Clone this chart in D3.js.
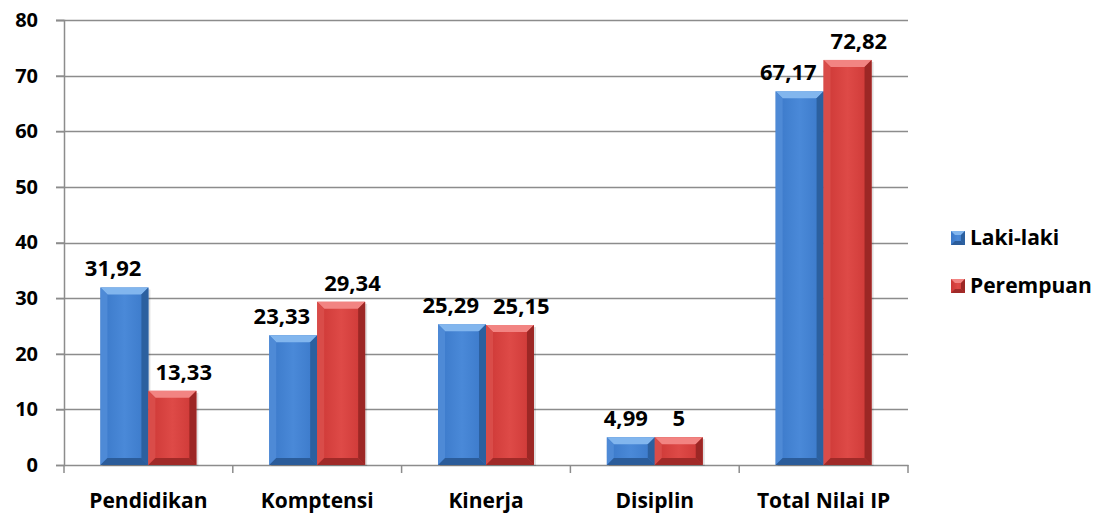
<!DOCTYPE html>
<html>
<head>
<meta charset="utf-8">
<script src="https://cdn.jsdelivr.net/npm/d3@7"></script>
<style>
	body { margin: 0; background: #fff; }
	text { font-family: 'Open Sans', Lato, sans-serif; font-weight: bold; fill: #000; }
</style>
</head>
<body>
<div id="chart"></div>
<script>
// data
const categories = ['Pendidikan', 'Komptensi', 'Kinerja', 'Disiplin', 'Total Nilai IP'];
const series = ['Laki-laki', 'Perempuan'];
const lakiValues = [31.92, 23.33, 25.29, 4.99, 67.17];
const perempuanValues = [13.33, 29.34, 25.15, 5, 72.82];
const yTicks = [0, 10, 20, 30, 40, 50, 60, 70, 80];

const W = 1116, H = 526;
const plot = { left: 64, right: 908, top: 20, bottom: 465 };
const FONT = "'Open Sans', Lato, sans-serif";

// bevel colours per series: face, top, left, right, bottom
const palette = {
	'Laki-laki': { face: ['#3A78C8', '#4A89D8', '#3A78C8'], top: '#82B6EE', left: '#4E8AD6', right: '#2C609F', bottom: '#2B5C9A' },
	'Perempuan': { face: ['#CC3735', '#DE4A47', '#CC3735'], top: '#F28482', left: '#D94C49', right: '#9C2725', bottom: '#A02A28' }
};

const svg = d3.select('#chart').append('svg').attr('width', W).attr('height', H);

const defs = svg.append('defs');
series.forEach((s, i) => {
	const g = defs.append('linearGradient').attr('id', 'face' + i).attr('x1', '0').attr('x2', '1').attr('y1', '0').attr('y2', '0');
	palette[s].face.forEach((c, j) => g.append('stop').attr('offset', j / 2).attr('stop-color', c));
});

const x0 = d3.scaleBand().domain(categories).range([plot.left, plot.right]);
const x1 = d3.scaleBand().domain(series).range([0, x0.bandwidth()]).paddingOuter(0.76);
const y = d3.scaleLinear().domain([0, 80]).range([plot.bottom, plot.top]);

// gridlines
svg.append('g')
	.selectAll('line')
	.data(yTicks.filter((d) => d > 0))
	.enter()
	.append('line')
	.attr('x1', plot.left - 8)
	.attr('x2', plot.right)
	.attr('y1', (d) => Math.round(y(d)) + 0.5)
	.attr('y2', (d) => Math.round(y(d)) + 0.5)
	.attr('stroke', '#8c8c8c')
	.attr('stroke-width', 1.5);

// y axis
const yAxis = svg.append('g')
	.attr('transform', `translate(${plot.left},0)`)
	.call(d3.axisLeft(y).tickValues(yTicks).tickSize(8).tickPadding(18));
yAxis.select('.domain').attr('stroke', '#8c8c8c').attr('stroke-width', 1.5);
yAxis.selectAll('.tick line').attr('stroke', '#8c8c8c').attr('stroke-width', 1.5);
yAxis.selectAll('.tick text').attr('font-size', 20).attr('font-family', FONT).attr('font-weight', 'bold').attr('fill', '#000');

// x axis
const xAxis = svg.append('g')
	.attr('transform', `translate(0,${plot.bottom})`)
	.call(d3.axisBottom(x0).tickSize(0).tickPadding(28));
xAxis.select('.domain').attr('stroke', '#8c8c8c').attr('stroke-width', 1.5);
xAxis.selectAll('.tick text').attr('font-size', 21).attr('font-family', FONT).attr('font-weight', 'bold').attr('fill', '#000');
// category boundary ticks
svg.append('g')
	.selectAll('line')
	.data(categories.map((c) => x0(c)).concat([plot.right]))
	.enter()
	.append('line')
	.attr('x1', (d) => d)
	.attr('x2', (d) => d)
	.attr('y1', plot.bottom)
	.attr('y2', plot.bottom + 8)
	.attr('stroke', '#8c8c8c')
	.attr('stroke-width', 1.5);

// bars
const rows = categories.map((c, i) => ({ cat: c, vals: [lakiValues[i], perempuanValues[i]] }));
const bars = [];
rows.forEach((r) => r.vals.forEach((v, i) => bars.push({ cat: r.cat, s: series[i], si: i, v })));

function bevel(g, d) {
	const x = x0(d.cat) + x1(d.s);
	const w = x1.bandwidth();
	const yt = y(d.v);
	const h = plot.bottom - yt;
	const b = Math.min(7, h / 2, w / 2);
	const p = palette[d.s];
	// soft shadow
	g.append('rect').attr('x', x + 2).attr('y', yt + 2).attr('width', w).attr('height', h - 1)
		.attr('fill', '#000').attr('opacity', 0.12);
	g.append('rect').attr('x', x).attr('y', yt).attr('width', w).attr('height', h).attr('fill', `url(#face${d.si})`);
	const poly = (pts, fill) => g.append('polygon').attr('points', pts.map((q) => q.join(',')).join(' ')).attr('fill', fill);
	poly([[x, yt], [x + w, yt], [x + w - b, yt + b], [x + b, yt + b]], p.top);
	poly([[x, yt], [x + b, yt + b], [x + b, plot.bottom - b], [x, plot.bottom]], p.left);
	poly([[x + w, yt], [x + w, plot.bottom], [x + w - b, plot.bottom - b], [x + w - b, yt + b]], p.right);
	poly([[x, plot.bottom], [x + b, plot.bottom - b], [x + w - b, plot.bottom - b], [x + w, plot.bottom]], p.bottom);
}

const barG = svg.append('g');
bars.forEach((d) => bevel(barG.append('g'), d));

// value labels, nudged outward when wider than the bar
const labels = svg.append('g')
	.selectAll('text')
	.data(bars)
	.enter()
	.append('text')
	.attr('y', (d) => y(d.v) - 11)
	.attr('text-anchor', 'middle')
	.attr('font-size', 22)
	.text((d) => String(d.v).replace('.', ','));
labels.attr('x', function (d) {
	const cx = x0(d.cat) + x1(d.s) + x1.bandwidth() / 2;
	const shift = Math.max(0, this.getComputedTextLength() / 2 - x1.bandwidth() / 2 + 7);
	return cx + (d.si === 0 ? -shift : shift);
});

// legend
const legend = svg.append('g').attr('transform', 'translate(951,231)');
series.forEach((s, i) => {
	const g = legend.append('g').attr('transform', `translate(0,${i * 48})`);
	const p = palette[s];
	g.append('rect').attr('width', 14).attr('height', 14).attr('fill', `url(#face${i})`);
	g.append('polygon').attr('points', '0,0 14,0 10,4 4,4').attr('fill', p.top);
	g.append('polygon').attr('points', '14,0 14,14 10,10 10,4').attr('fill', p.right);
	g.append('polygon').attr('points', '0,14 4,10 10,10 14,14').attr('fill', p.bottom);
	g.append('text').attr('x', 19).attr('y', 14).attr('font-size', 21).text(s);
});
</script>
</body>
</html>
